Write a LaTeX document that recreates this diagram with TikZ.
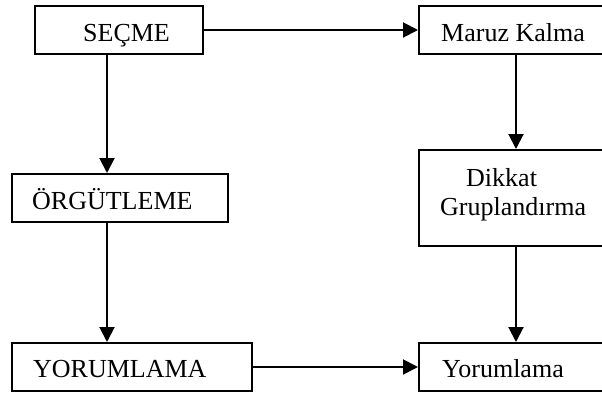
\documentclass[tikz,border=0pt]{standalone}
\usepackage{fontspec}
\setmainfont{Liberation Serif}
\usetikzlibrary{arrows.meta}
\begin{document}
\begin{tikzpicture}[x=1pt,y=-1pt,
  box/.style={draw=black,line width=2pt,rectangle,inner sep=0pt},
  label/.style={anchor=base west,inner sep=0pt,font=\fontsize{26}{29}\selectfont},
  arr/.style={line width=2pt,-{Triangle[width=15pt,length=15pt]}}]
\useasboundingbox (0,0) rectangle (602,397);
\clip (0,0) rectangle (602,397);
\fill[white] (0,0) rectangle (602,397);

% left column
\node[box,minimum width=168pt,minimum height=48pt] (sec) at (119,30) {};
\node[box,minimum width=216pt,minimum height=48pt] (org) at (120,198) {};
\node[box,minimum width=240pt,minimum height=48pt] (yor) at (132,367) {};
% right column
\node[box,minimum width=194pt,minimum height=48pt] (mar) at (516,30) {};
\node[box,minimum width=194pt,minimum height=96pt] (dik) at (516,198) {};
\node[box,minimum width=194pt,minimum height=48pt] (yor2) at (516,367) {};

% texts
\node[label] (tsec) at (83,41.5) {SEÇME};
\node[label] (tmar) at (441,41) {Maruz Kalma};
\node[label] (torg) at (32,209) {ÖRGÜTLEME};
\node[label] (tdik1) at (466,186) {Dikkat};
\node[label] (tdik2) at (440,215) {Gruplandırma};
\node[label] (tyor) at (33,377) {YORUMLAMA};
\node[label] (tyor2) at (442,377) {Yorumlama};

% connectors
\draw[arr] (sec.east) -- (mar.west);
\draw[arr] (yor.east) -- (yor2.west);
\draw[arr] ([xshift=-12pt]sec.south) -- ([xshift=-12pt]sec.south |- org.north);
\draw[arr] ([xshift=-13pt]org.south) -- ([xshift=-13pt]org.south |- yor.north);
\draw[arr] (mar.south) -- (dik.north);
\draw[arr] (dik.south) -- (yor2.north);
\end{tikzpicture}
\end{document}
